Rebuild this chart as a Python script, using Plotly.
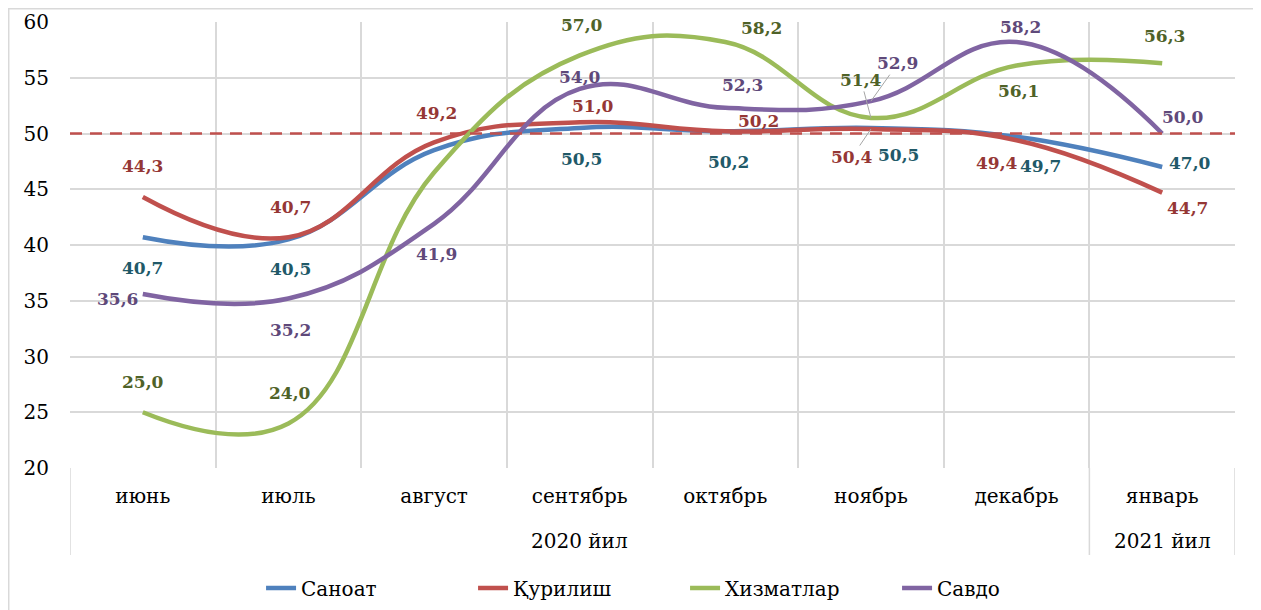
import plotly.graph_objects as go

# ---- data ----
years = ["2020 йил", "2021 йил"]
year_spans = [(0, 6), (7, 7)]  # first and last month index of each year group
months = ["июнь", "июль", "август", "сентябрь", "октябрь", "ноябрь", "декабрь", "январь"]

sanoat = [40.7, 40.5, 48.5, 50.5, 50.2, 50.5, 49.7, 47.0]
qurilish = [44.3, 40.7, 49.2, 51.0, 50.2, 50.4, 49.4, 44.7]
xizmatlar = [25.0, 24.0, 46.5, 57.0, 58.2, 51.4, 56.1, 56.3]
savdo = [35.6, 35.2, 41.9, 54.0, 52.3, 52.9, 58.2, 50.0]
threshold = 50

series_names = ["Саноат", "Қурилиш", "Хизматлар", "Савдо"]
series_values = [sanoat, qurilish, xizmatlar, savdo]
# which points carry a visible data label
label_shown = [
    [1, 1, 0, 1, 1, 1, 1, 1],
    [1, 1, 1, 1, 1, 1, 1, 1],
    [1, 1, 0, 1, 1, 1, 1, 1],
    [1, 1, 1, 1, 1, 1, 1, 1],
]

# ---- styles ----
line_colors = ["#4F81BD", "#C0504D", "#9BBB59", "#8064A2"]
label_colors = ["#215968", "#953735", "#4F6228", "#5F497A"]
# label pixel offsets (dx, dy) from point
label_offsets = [
    [(0, 31), (2, 30), None, (2, 31), (3, 31), (28, 27), (24, 29), (28, -4)],
    [(0, -31), (2, -30), (2, -29), (13, -16), (33, -10), (-19, 28), (-20, 23), (25, 15)],
    [(0, -30), (2, -30), None, (2, -30), (36, -14), (-10, -38), (2, 26), (2, -27)],
    [(-25, 5), (2, 31), (2, 30), (0, -12), (17, -23), (27, -38), (4, -15), (21, -17)],
]
leaders = {(1, 5), (2, 5), (3, 5)}

FONT = "DejaVu Serif"
GRID = "#D9D9D9"
AX_SIZE = 20
LBL_SIZE = 17

fig = go.Figure()
for name, vals, col in zip(series_names, series_values, line_colors):
    fig.add_trace(go.Scatter(
        x=months, y=vals, name=name, mode="lines",
        line=dict(color=col, width=4.5, shape="spline", smoothing=1.2),
        hoverinfo="skip",
    ))

annotations = []
for s, vals in enumerate(series_values):
    for i, v in enumerate(vals):
        if not label_shown[s][i]:
            continue
        dx, dy = label_offsets[s][i]
        lead = (s, i) in leaders
        annotations.append(dict(
            x=i, y=v, xref="x", yref="y",
            text="<b>" + f"{v:.1f}".replace(".", ",") + "</b>",
            showarrow=True, ax=dx, ay=dy, axref="pixel", ayref="pixel",
            arrowhead=0, arrowwidth=1,
            arrowcolor="#A6A6A6" if lead else "rgba(0,0,0,0)",
            font=dict(family=FONT, size=LBL_SIZE, color=label_colors[s]),
        ))

# second-level (year) axis labels and group dividers
for yr, (a, b) in zip(years, year_spans):
    annotations.append(dict(
        x=(a + b) / 2, y=-0.1637, xref="x", yref="paper", text=yr, showarrow=False,
        xanchor="center", yanchor="middle",
        font=dict(family=FONT, size=AX_SIZE, color="#000000"),
    ))
divider_pos = [year_spans[0][0] - 0.5] + [b + 0.5 for (_, b) in year_spans]
for xd in divider_pos:
    fig.add_shape(type="line", xref="x", yref="paper", x0=xd, x1=xd, y0=0, y1=-0.195,
                  line=dict(color=GRID, width=1.5), layer="below")

fig.add_shape(type="line", xref="paper", yref="y", x0=0, x1=1, y0=threshold, y1=threshold,
              line=dict(color="#C0504D", width=2.5, dash="12px,8px"), layer="above")

# outer chart border
fig.add_shape(type="rect", xref="paper", yref="paper",
              x0=-0.0526, x1=1.018, y0=-0.33, y1=1.0297,
              line=dict(color=GRID, width=1.5), fillcolor="rgba(0,0,0,0)", layer="below")

fig.update_layout(
    width=1253, height=602,
    margin=dict(l=62, r=26, t=14, b=142, autoexpand=False),
    paper_bgcolor="white", plot_bgcolor="white",
    font=dict(family=FONT, size=AX_SIZE, color="#000000"),
    annotations=annotations,
    showlegend=True,
    legend=dict(orientation="h", x=0.164, xanchor="left", y=-0.269, yanchor="middle",
                font=dict(family=FONT, size=AX_SIZE, color="#000000"),
                entrywidth=167, entrywidthmode="pixels", traceorder="normal"),
)
fig.update_xaxes(
    type="category", range=[-0.5, 7.5], automargin=False, tickson="boundaries",
    showgrid=True, gridcolor=GRID, gridwidth=1.5,
    ticks="", ticklabelstandoff=14,
    showline=False, zeroline=False,
    tickfont=dict(family=FONT, size=AX_SIZE, color="#000000"),
)
fig.update_yaxes(
    range=[20, 60], dtick=5, tick0=20, automargin=False,
    showgrid=True, gridcolor=GRID, gridwidth=1.5,
    zeroline=False, showline=False,
    ticks="outside", ticklen=16, tickcolor="rgba(0,0,0,0)",
    tickfont=dict(family=FONT, size=AX_SIZE, color="#000000"),
)

fig.write_html("out.html")
